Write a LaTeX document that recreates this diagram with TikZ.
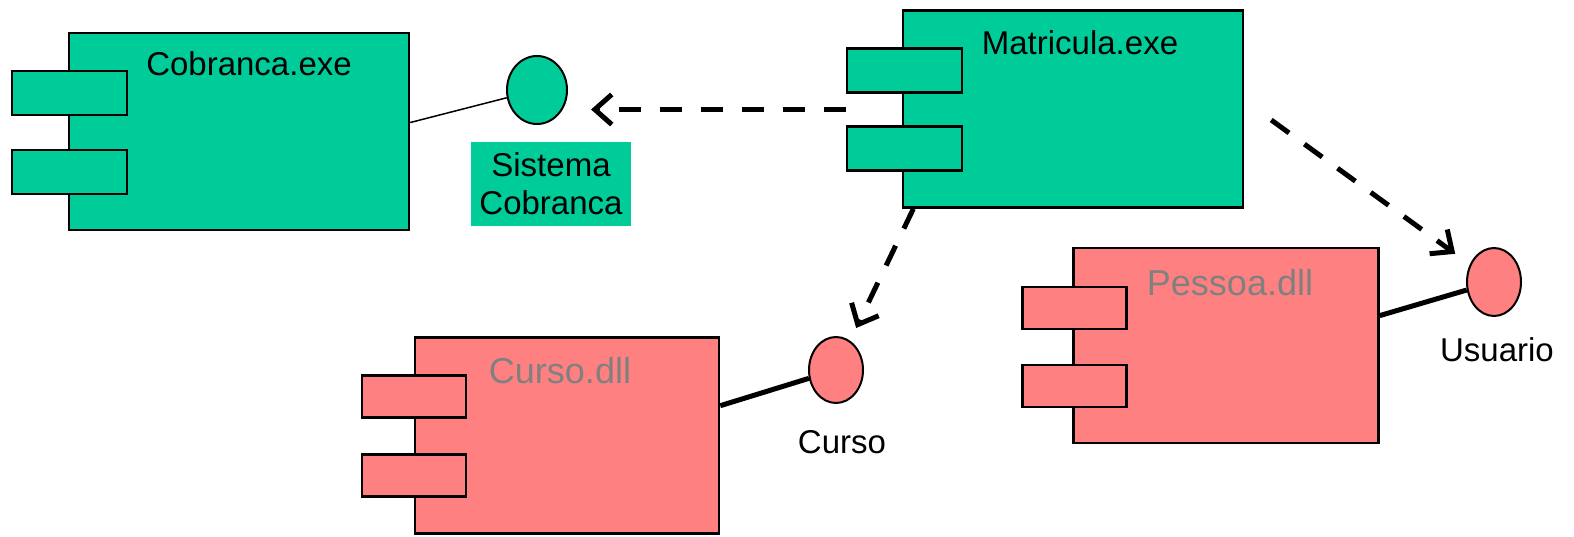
\documentclass[tikz,border=0pt]{standalone}
\usepackage{fontspec}
\setmainfont{Liberation Sans}
\usetikzlibrary{
  arrows.meta,
  positioning,
  calc,
  shapes.geometric
}
\definecolor{ExeGreen}{RGB}{0,204,153}
\definecolor{DllPink}{RGB}{255,128,128}
\definecolor{TitleGray}{RGB}{128,128,128}
\newcommand{\diagfont}{\fontsize{33}{38}\selectfont}
\newcommand{\dllfont}{\fontsize{36}{42}\selectfont}
\tikzset{
  exebox/.style={draw=black,fill=ExeGreen,line width=2.5pt,minimum width=340pt,minimum height=197pt,inner sep=0pt},
  dllbox/.style={draw=black,fill=DllPink,line width=2.5pt,minimum width=305pt,minimum height=196pt,inner sep=0pt},
  exetab/.style={draw=black,fill=ExeGreen,line width=2.5pt,minimum width=115pt,minimum height=44pt,inner sep=0pt},
  dlltab/.style={draw=black,fill=DllPink,line width=2.5pt,minimum width=104pt,minimum height=42pt,inner sep=0pt},
  exetitle/.style={inner sep=0pt,font=\diagfont,text=black},
  dlltitle/.style={inner sep=0pt,font=\dllfont,text=TitleGray},
  iface/.style={ellipse,draw=black,line width=2pt,minimum width=56pt,minimum height=67pt,inner sep=0pt},
  ifacelabel/.style={inner sep=0pt,font=\diagfont,align=center},
  depends/.style={-{Straight Barb[length=17pt,width=30pt]},line width=5pt,dash pattern=on 22pt off 19pt},
  thinwire/.style={line width=1.5pt},
  thickwire/.style={line width=5pt}
}

\begin{document}
\begin{tikzpicture}[x=1pt,y=-1pt]
\useasboundingbox (0,0) rectangle (1574,537);
% executables
\node[exebox] (cob) at (239,131.5) {};
\node[exetab, below right=38pt and -57pt of cob.north west] (cobtab1) {};
\node[exetab, below right=117pt and -57pt of cob.north west] (cobtab2) {};
\node[exetitle, below=20pt of cob.north, xshift=10pt] (cobt) {Cobranca.exe};
\node[exebox] (mat) at (1073,109) {};
\node[exetab, below right=38pt and -56pt of mat.north west] (mattab1) {};
\node[exetab, below right=116pt and -56pt of mat.north west] (mattab2) {};
\node[exetitle, below=21pt of mat.north, xshift=7pt] (matt) {Matricula.exe};
% libraries
\node[dllbox, minimum width=304pt] (cur) at (567,435.5) {};
\node[dlltab, below right=38pt and -53pt of cur.north west] (curtab1) {};
\node[dlltab, below right=117pt and -53pt of cur.north west] (curtab2) {};
\node[dlltitle, below=21pt of cur.north, xshift=-7pt] (curt) {Curso.dll};
\node[dllbox, minimum height=195pt] (pes) at (1226,345.5) {};
\node[dlltab, below right=39pt and -51pt of pes.north west] (pestab1) {};
\node[dlltab, below right=117pt and -51pt of pes.north west] (pestab2) {};
\node[dlltitle, below=22pt of pes.north, xshift=4pt] (pest) {Pessoa.dll};
% interfaces
\node[iface, fill=ExeGreen, minimum width=60pt, minimum height=68pt] (sisc) at (537,90) {};
\node[ifacelabel, fill=ExeGreen, minimum width=160pt, minimum height=84pt, below=17pt of sisc, xshift=14pt] (sisct) {Sistema\\Cobranca};
\node[iface, fill=DllPink, minimum width=54pt, minimum height=66pt] (curif) at (836,370) {};
\node[ifacelabel, below=26pt of curif, xshift=6pt] (curift) {Curso};
\node[iface, fill=DllPink, minimum width=54pt, minimum height=68pt] (usr) at (1494,282) {};
\node[ifacelabel, below=20pt of usr, xshift=3pt] (usrt) {Usuario};
% realizations
\draw[thinwire] (cob.3) -- (sisc);
\draw[thickwire] (cur.11) -- (curif);
\draw[thickwire] (pes.11) -- (usr);
% dependencies
\coordinate (mfrom) at ($(mattab1.south west)!.5!(mattab2.north west)$);
\draw[depends, shorten >=23pt] (mfrom) -- (mfrom -| sisc.east);
\draw[depends, shorten >=14pt] (mat.212) -- (curif);
\draw[depends, shorten >=18pt] ([shift={(27pt,-11pt)}]mat.east) -- (usr);
\end{tikzpicture}
\end{document}
